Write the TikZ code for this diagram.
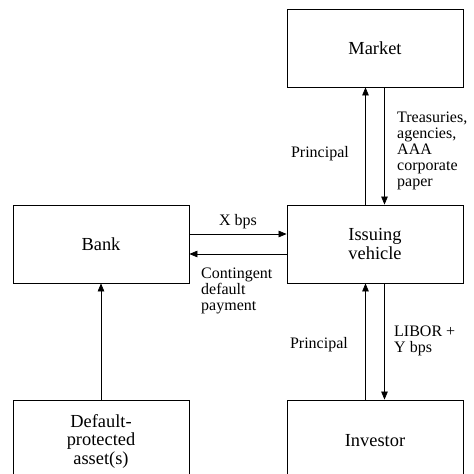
\documentclass[tikz,border=0pt]{standalone}
\usepackage{fontspec}
\setmainfont{Liberation Serif}
\usetikzlibrary{arrows.meta}
\tikzset{
    block/.style = {draw, line width=0.8pt, minimum width=176pt, minimum height=78pt,
        inner sep=0pt, align=center, font=\fontsize{18.4}{18.5}\selectfont},
    flow/.style = {-{Triangle[length=8pt, width=6.5pt]}, line width=0.7pt},
    lbl/.style = {align=left, inner sep=0pt, font=\fontsize{16}{16}\selectfont}
}

\begin{document}
\begin{tikzpicture}[x=1pt, y=-1pt]
            \path [use as bounding box, clip] (0, 0) rectangle (474, 474);
            \node [block] (market) at (375, 48) {Market};
            \node [block] (vehicle) at (375, 244) {Issuing\\vehicle};
            \node [block] (bank) at (101, 244) {Bank};
            \node [block, minimum height=82pt] (investor) at (375, 441) {Investor};
            \node [block, minimum height=82pt] (asset) at (101, 441) {Default-\\protected\\asset(s)};
            \draw [flow] ([xshift=-9.5pt] vehicle.north) -- ([xshift=-9.5pt] market.south);
            \draw [flow] ([xshift=9.5pt] market.south) -- ([xshift=9.5pt] vehicle.north);
            \draw [flow] ([yshift=10pt] bank.east) -- ([yshift=10pt] vehicle.west);
            \draw [flow] ([yshift=-10pt] vehicle.west) -- ([yshift=-10pt] bank.east);
            \draw [flow] ([xshift=-9.5pt] investor.north) -- ([xshift=-9.5pt] vehicle.south);
            \draw [flow] ([xshift=9.5pt] vehicle.south) -- ([xshift=9.5pt] investor.north);
            \draw [flow] (asset) -- (bank);
            % multi-line labels sit on the baseline of their last line
            \node [lbl, anchor=base east] (principaltop) at (349, 157) {Principal};
            \node [lbl, anchor=base west] (treasuries) at (397, 186) {Treasuries,\\agencies,\\AAA\\corporate\\paper};
            \node [lbl, anchor=base] (xbps) at (238, 225) {X bps};
            \node [lbl, anchor=base west] (contingent) at (201, 310) {Contingent\\default\\payment};
            \node [lbl, anchor=base east] (principalbottom) at (348, 348) {Principal};
            \node [lbl, anchor=base west] (libor) at (394, 352) {LIBOR +\\Y bps};
\end{tikzpicture}
\end{document}
